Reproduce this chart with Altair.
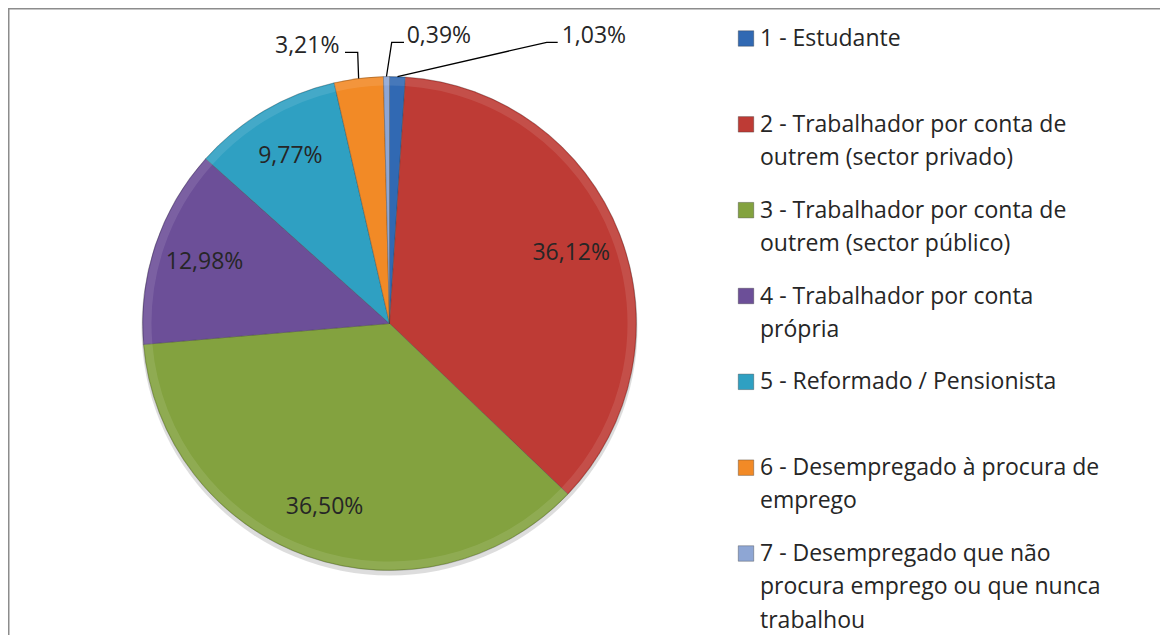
import math
import altair as alt
import pandas as pd

# ---------------- data ----------------
categories = [
    "1 - Estudante",
    "2 - Trabalhador por conta de outrem (sector privado)",
    "3 - Trabalhador por conta de outrem (sector público)",
    "4 - Trabalhador por conta própria",
    "5 - Reformado / Pensionista",
    "6 - Desempregado à procura de emprego",
    "7 - Desempregado que não procura emprego ou que nunca trabalhou",
]
legend_text = [
    "1 - Estudante",
    "2 - Trabalhador por conta de|outrem (sector privado)",
    "3 - Trabalhador por conta de|outrem (sector público)",
    "4 - Trabalhador por conta|própria",
    "5 - Reformado / Pensionista",
    "6 - Desempregado à procura de|emprego",
    "7 - Desempregado que não|procura emprego ou que nunca|trabalhou",
]
values = [1.03, 36.12, 36.50, 12.98, 9.77, 3.21, 0.39]
labels = ["1,03%", "36,12%", "36,50%", "12,98%", "9,77%", "3,21%", "0,39%"]
colors = ["#3169B3", "#BE3B35", "#83A23F", "#6C4F98", "#2FA0C2", "#F28A26", "#8EA6D4"]

# ---------------- layout (pixels, chart coords) ----------------
W, H = 1152, 627
CX, CY, R = 381.5, 315.5, 247
FONT = "Open Sans"
TXT = "#262626"

outside = ["1,03%", "3,21%", "0,39%"]
out_layout = {
    "1,03%": dict(lx=553.7, ly=35.0, sx=549.7, sy=34.3, ex=538.7, ey=34.3),
    "3,21%": dict(lx=267.0, ly=45.3, sx=337.0, sy=44.3, ex=349.7, ey=44.3),
    "0,39%": dict(lx=398.7, ly=35.0, sx=396.0, sy=34.3, ex=383.7, ey=34.3),
}

df = pd.DataFrame({
    "idx": list(range(len(values))),
    "cat": categories,
    "value": values,
    "label": labels,
})
df["inner"] = [l if l not in outside else "" for l in labels]

total = sum(values)
cum = 0.0
out_rows, line_rows = [], []
for v, l in zip(values, labels):
    mid = (cum + v / 2) / total * 2 * math.pi
    cum += v
    if l in out_layout:
        o = out_layout[l]
        out_rows.append(dict(label=l, lx=o["lx"], ly=o["ly"]))
        px = CX + R * math.sin(mid)
        py = CY - R * math.cos(mid)
        for k, (x, y) in enumerate([(o["sx"], o["sy"]), (o["ex"], o["ey"]), (px, py)]):
            line_rows.append(dict(label=l, pt=k, x=x, y=y))
df_out = pd.DataFrame(out_rows)
df_lines = pd.DataFrame(line_rows)

df_leg = pd.DataFrame({"cat": categories, "txt": legend_text})

color_scale = alt.Scale(domain=categories, range=colors)

# ---------------- layers ----------------
shadow = alt.Chart(pd.DataFrame({"a": [0]})).mark_arc(
    theta=0, theta2=2 * math.pi, radius=R + 1, color="#cfcfcf", opacity=0.7
).encode(x=alt.value(CX), y=alt.value(CY + 4))

base = alt.Chart(df).encode(
    theta=alt.Theta("value:Q", stack=True),
    order=alt.Order("idx:Q"),
    x=alt.value(CX),
    y=alt.value(CY),
)

pie = base.mark_arc(radius=R, stroke="#3a3a3a", strokeWidth=0.7, strokeOpacity=0.45).encode(
    color=alt.Color("cat:N", scale=color_scale, legend=None)
)

rim = base.mark_arc(radius=R - 1, radius2=R - 9, fill="white", fillOpacity=0.10)

inner_text = base.mark_text(radius=195, font=FONT, fontSize=23, color=TXT).encode(
    text="inner:N"
)

leaders = alt.Chart(df_lines).mark_line(color="#000000", strokeWidth=1.3).encode(
    x=alt.X("x:Q", scale=None, axis=None),
    y=alt.Y("y:Q", scale=None, axis=None),
    detail="label:N",
    order="pt:O",
)

out_text = alt.Chart(df_out).mark_text(
    align="left", baseline="alphabetic", font=FONT, fontSize=23, color=TXT
).encode(
    x=alt.X("lx:Q", scale=None, axis=None),
    y=alt.Y("ly:Q", scale=None, axis=None),
    text="label:N",
)

leg_y = alt.Y(
    "cat:N", sort=categories, axis=None,
    scale=alt.Scale(type="point", range=[30.5, 545.5], padding=0),
)
leg_sq = alt.Chart(df_leg).mark_square(
    size=240, stroke="#333333", strokeWidth=0.7, strokeOpacity=0.5, opacity=1
).encode(
    x=alt.value(738),
    y=leg_y,
    color=alt.Color("cat:N", scale=color_scale, legend=None),
)
leg_txt = alt.Chart(df_leg).mark_text(
    align="left", baseline="alphabetic", dy=7.5, lineBreak="|", lineHeight=33.3,
    font=FONT, fontSize=23, color=TXT,
).encode(x=alt.value(752), y=leg_y, text="txt:N")

border_top = alt.Chart(pd.DataFrame({"a": [0]})).mark_rule(color="#8c8c8c", strokeWidth=2).encode(
    x=alt.value(0), x2=alt.value(W), y=alt.value(0.5)
)
border_left = alt.Chart(pd.DataFrame({"a": [0]})).mark_rule(color="#8c8c8c", strokeWidth=2).encode(
    x=alt.value(0.5), y=alt.value(0), y2=alt.value(H)
)

chart = alt.layer(
    shadow, pie, rim, inner_text, leaders, out_text, leg_sq, leg_txt, border_top, border_left
).resolve_scale(
    x="independent", y="independent"
).properties(
    width=W, height=H, autosize=alt.AutoSizeParams(type="none"), padding=0,
    background="white",
).configure_view(stroke=None)

chart.save("out.html", embed_options={"renderer": "svg", "actions": False})
